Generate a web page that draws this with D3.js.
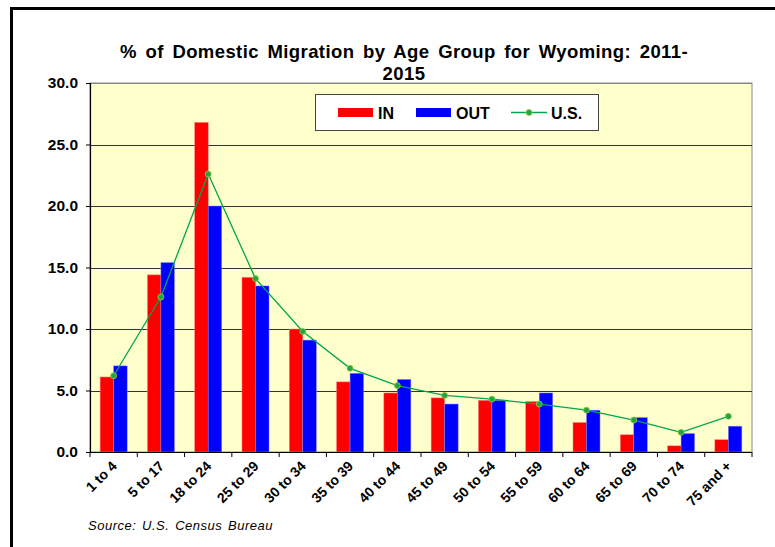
<!DOCTYPE html>
<html>
<head>
<meta charset="utf-8">
<script src="https://cdn.jsdelivr.net/npm/d3@7"></script>
<style>
  body { margin: 0; background: #fff; }
  svg { display: block; font-family: "Liberation Sans", Arial, sans-serif; }
</style>
</head>
<body>
<svg id="chart" width="775" height="547"></svg>
<script>
// Age groups and percentages
const ageGroups = ['1 to 4', '5 to 17', '18 to 24', '25 to 29', '30 to 34', '35 to 39', '40 to 44',
                   '45 to 49', '50 to 54', '55 to 59', '60 to 64', '65 to 69', '70 to 74', '75 and +'];
const inValues  = [6.1, 14.4, 26.8, 14.2, 10.0, 5.7, 4.8, 4.4, 4.2, 4.1, 2.4, 1.4, 0.5, 1.0];
const outValues = [7.0, 15.4, 20.0, 13.5, 9.1, 6.4, 5.9, 3.9, 4.2, 4.8, 3.4, 2.8, 1.5, 2.1];
const usValues  = [6.2, 12.6, 22.6, 14.1, 9.8, 6.8, 5.4, 4.6, 4.3, 3.9, 3.4, 2.6, 1.6, 2.9];
const yTicks    = [0, 5, 10, 15, 20, 25, 30];

const svg = d3.select('#chart');

// plot area
const plot = { left: 90, right: 752, top: 83, bottom: 452 };

// stretch a text to a given width by widening the gaps between words
function fitWords(sel, width) {
    const node = sel.node();
    const gaps = (node.textContent.match(/ /g) || []).length;
    const extra = (width - node.getComputedTextLength()) / gaps;
    sel.attr('word-spacing', Math.max(0, extra));
}

// outer frame (runs off the right and bottom edge)
svg.append('path')
    .attr('d', `M11.5,560 L11.5,8.5 L790,8.5`)
    .attr('fill', 'none')
    .attr('stroke', '#000')
    .attr('stroke-width', 3);

// scales
const x0 = d3.scaleBand()
    .domain(ageGroups)
    .range([plot.left, plot.right]);

const x1 = d3.scaleBand()
    .domain(['IN', 'OUT'])
    .range([0, x0.bandwidth()])
    .paddingOuter(0.75);

const y = d3.scaleLinear()
    .domain([0, 30])
    .range([plot.bottom, plot.top]);

// background
svg.append('rect')
    .attr('x', plot.left)
    .attr('y', plot.top)
    .attr('width', plot.right - plot.left)
    .attr('height', plot.bottom - plot.top)
    .attr('fill', '#ffffcc')
    .attr('stroke', '#888')
    .attr('stroke-width', 1);

// grid lines
svg.append('g')
    .selectAll('line')
    .data(yTicks.filter(d => d > 0))
    .enter()
    .append('line')
    .attr('x1', plot.left)
    .attr('x2', plot.right)
    .attr('y1', d => Math.round(y(d)) + 0.5)
    .attr('y2', d => Math.round(y(d)) + 0.5)
    .attr('stroke', d => d === 30 ? '#888' : '#333')
    .attr('stroke-width', 1.2);

// bars
const groups = svg.append('g')
    .selectAll('g')
    .data(ageGroups.map((c, i) => ({ cat: c, vals: [['IN', inValues[i]], ['OUT', outValues[i]]] })))
    .enter()
    .append('g')
    .attr('transform', d => `translate(${x0(d.cat)},0)`);

groups.selectAll('rect')
    .data(d => d.vals)
    .enter()
    .append('rect')
    .attr('x', d => x1(d[0]))
    .attr('y', d => y(d[1]))
    .attr('width', x1.bandwidth())
    .attr('height', d => y(0) - y(d[1]))
    .attr('fill', d => d[0] === 'IN' ? '#ff0000' : '#0000ff')
    .attr('stroke', d => d[0] === 'IN' ? '#ff8080' : '#8080ff')
    .attr('stroke-width', 0.5);

// U.S. line
const usLine = d3.line()
    .x((d, i) => x0(ageGroups[i]) + x0.bandwidth() / 2)
    .y(d => y(d));

svg.append('path')
    .datum(usValues)
    .attr('d', usLine)
    .attr('fill', 'none')
    .attr('stroke', '#00a651')
    .attr('stroke-width', 1.3);

svg.append('g')
    .selectAll('circle')
    .data(usValues)
    .enter()
    .append('circle')
    .attr('cx', (d, i) => x0(ageGroups[i]) + x0.bandwidth() / 2)
    .attr('cy', d => y(d))
    .attr('r', 3)
    .attr('fill', '#22a34a')
    .attr('stroke', '#9acd32')
    .attr('stroke-width', 0.8);

// axes lines
svg.append('line')
    .attr('x1', plot.left + 0.5).attr('x2', plot.left + 0.5)
    .attr('y1', plot.top).attr('y2', plot.bottom)
    .attr('stroke', '#000').attr('stroke-width', 1.2);
svg.append('line')
    .attr('x1', plot.left).attr('x2', plot.right)
    .attr('y1', plot.bottom + 0.5).attr('y2', plot.bottom + 0.5)
    .attr('stroke', '#000').attr('stroke-width', 1.2);

// y axis
const yAxis = svg.append('g')
    .attr('transform', `translate(${plot.left},0)`)
    .call(d3.axisLeft(y).tickValues(yTicks).tickFormat(d3.format('.1f')).tickSize(4).tickPadding(8));
yAxis.select('.domain').remove();
yAxis.selectAll('line').attr('stroke', '#000');
yAxis.selectAll('text')
    .attr('font-size', 15.5)
    .attr('font-weight', 'bold')
    .attr('font-family', '"Liberation Sans", Arial, sans-serif')
    .attr('fill', '#000');

// x ticks at category boundaries
svg.append('g')
    .selectAll('line')
    .data(ageGroups.map(c => x0(c)).concat([plot.right]))
    .enter()
    .append('line')
    .attr('x1', d => d).attr('x2', d => d)
    .attr('y1', plot.bottom).attr('y2', plot.bottom + 5)
    .attr('stroke', '#000');

// x labels
const xAxis = svg.append('g')
    .attr('transform', `translate(0,${plot.bottom})`)
    .call(d3.axisBottom(x0).tickSize(0));
xAxis.select('.domain').remove();
xAxis.selectAll('text')
    .attr('font-size', 14)
    .attr('font-weight', 'bold')
    .attr('font-family', '"Liberation Sans", Arial, sans-serif')
    .attr('fill', '#000')
    .attr('text-anchor', 'end')
    .attr('dy', null)
    .attr('y', 0)
    .attr('transform', 'translate(4,15) rotate(-45)');

// title
const title1 = svg.append('text')
    .attr('x', 120).attr('y', 58)
    .attr('font-size', 18.5)
    .attr('font-weight', 'bold')
    .attr('letter-spacing', 0.4)
    .attr('fill', '#000')
    .text('% of Domestic Migration by Age Group for Wyoming: 2011-');
fitWords(title1, 568);
svg.append('text')
    .attr('x', 404).attr('y', 80)
    .attr('text-anchor', 'middle')
    .attr('font-size', 18.5)
    .attr('font-weight', 'bold')
    .attr('letter-spacing', 0.4)
    .attr('fill', '#000')
    .text('2015');

// legend
const legend = svg.append('g');
legend.append('rect')
    .attr('x', 315.5).attr('y', 94.5)
    .attr('width', 283).attr('height', 36)
    .attr('fill', '#fff')
    .attr('stroke', '#444')
    .attr('stroke-width', 1);

const legendItems = [
    { key: 'IN', x: 338, color: '#ff0000' },
    { key: 'OUT', x: 416, color: '#0000ff' },
    { key: 'U.S.', x: 511, color: '#00a651' }
];
legendItems.forEach(item => {
    if (item.key === 'U.S.') {
        legend.append('line')
            .attr('x1', item.x).attr('x2', item.x + 36)
            .attr('y1', 112.5).attr('y2', 112.5)
            .attr('stroke', item.color).attr('stroke-width', 1.3);
        legend.append('circle')
            .attr('cx', item.x + 18).attr('cy', 112.5).attr('r', 3)
            .attr('fill', '#22a34a').attr('stroke', '#9acd32').attr('stroke-width', 0.8);
    } else {
        legend.append('rect')
            .attr('x', item.x).attr('y', 108)
            .attr('width', 35).attr('height', 9)
            .attr('fill', item.color);
    }
    legend.append('text')
        .attr('x', item.x + 40).attr('y', 118.5)
        .attr('font-size', 16)
        .attr('font-weight', 'bold')
        .attr('fill', '#000')
        .text(item.key);
});

// source note
const source = svg.append('text')
    .attr('x', 88).attr('y', 530)
    .attr('font-size', 13)
    .attr('font-style', 'italic')
    .attr('letter-spacing', 0.5)
    .attr('fill', '#000')
    .text('Source: U.S. Census Bureau');
fitWords(source, 185);
</script>
</body>
</html>
